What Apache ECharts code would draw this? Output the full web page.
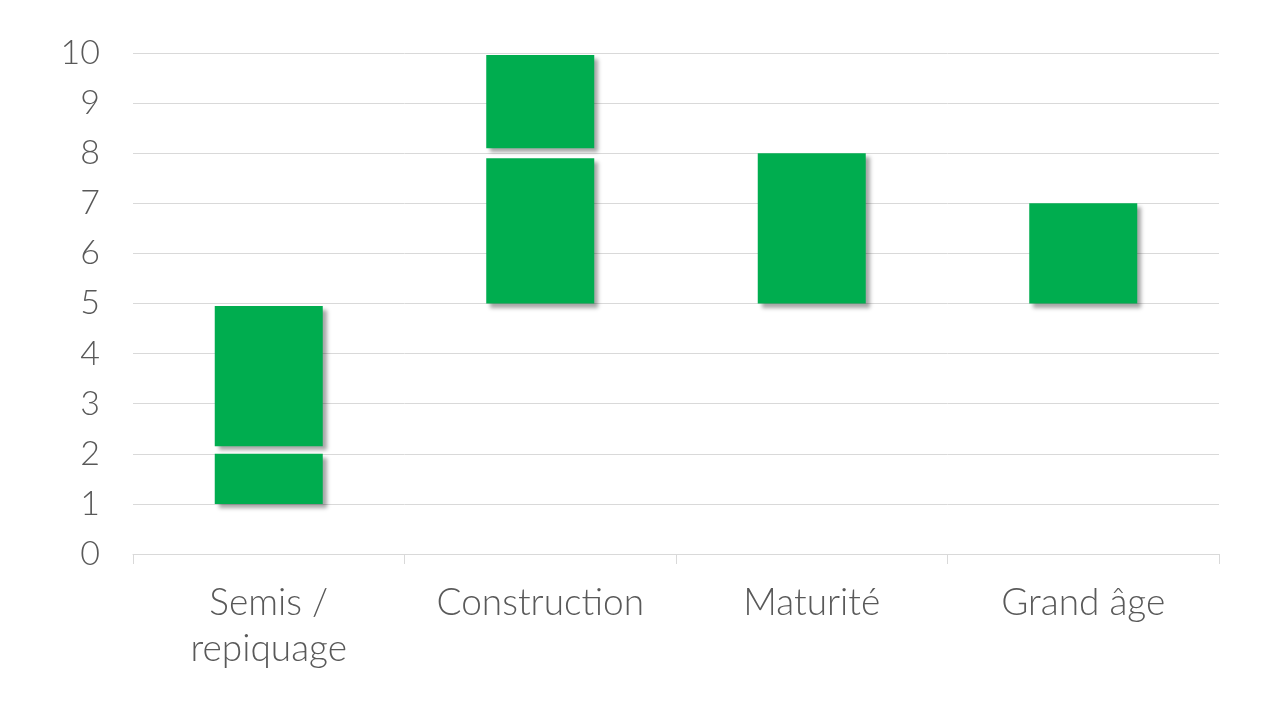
<!DOCTYPE html>
<html><head><meta charset="utf-8">
<script src="https://cdn.jsdelivr.net/npm/echarts@6/dist/echarts.min.js"></script>
<style>html,body{margin:0;padding:0;background:#fff}#c{width:1280px;height:720px}</style>
</head><body><div id="c"></div>
<script>
const categories = ['Semis /\nrepiquage', 'Construction', 'Maturité', 'Grand âge'];
const baseValues = [1, 5, 5, 5];
const lowerSegment = [1, 2.9, 3, 2];
const gapValues = [0.15, 0.2, 0, 0];
const upperSegment = [2.8, 1.86, 0, 0];
const yTicks = { min: 0, max: 10, interval: 1 };

const green = '#00AD4F';
const shadowStyle = { color: green, shadowColor: 'rgba(0,0,0,0.35)', shadowBlur: 4, shadowOffsetX: 4, shadowOffsetY: 4 };
const font = 'Lato, "Open Sans", sans-serif';

const chart = echarts.init(document.getElementById('c'));
chart.setOption({
  animation: false,
  grid: { left: 133, right: 61, top: 53, bottom: 166 },
  xAxis: {
    type: 'category', data: categories,
    axisLine: { lineStyle: { color: '#d9d9d9' } },
    axisTick: { show: true, length: 10, lineStyle: { color: '#d9d9d9' } },
    axisLabel: { color: '#595959', fontSize: 37, fontFamily: font, fontWeight: 300, margin: 26, lineHeight: 46 }
  },
  yAxis: {
    type: 'value', min: yTicks.min, max: yTicks.max, interval: yTicks.interval,
    axisLine: { show: false }, axisTick: { show: false },
    splitLine: { lineStyle: { color: '#d9d9d9' } },
    axisLabel: { color: '#595959', fontSize: 34, fontFamily: font, fontWeight: 300, margin: 33 }
  },
  series: [
    { type: 'bar', stack: 's', data: baseValues, barWidth: 108, itemStyle: { color: 'transparent' }, silent: true },
    { type: 'bar', stack: 's', data: lowerSegment, itemStyle: shadowStyle },
    { type: 'bar', stack: 's', data: gapValues, itemStyle: { color: 'transparent' }, silent: true },
    { type: 'bar', stack: 's', data: upperSegment, itemStyle: shadowStyle }
  ]
});
</script></body></html>
